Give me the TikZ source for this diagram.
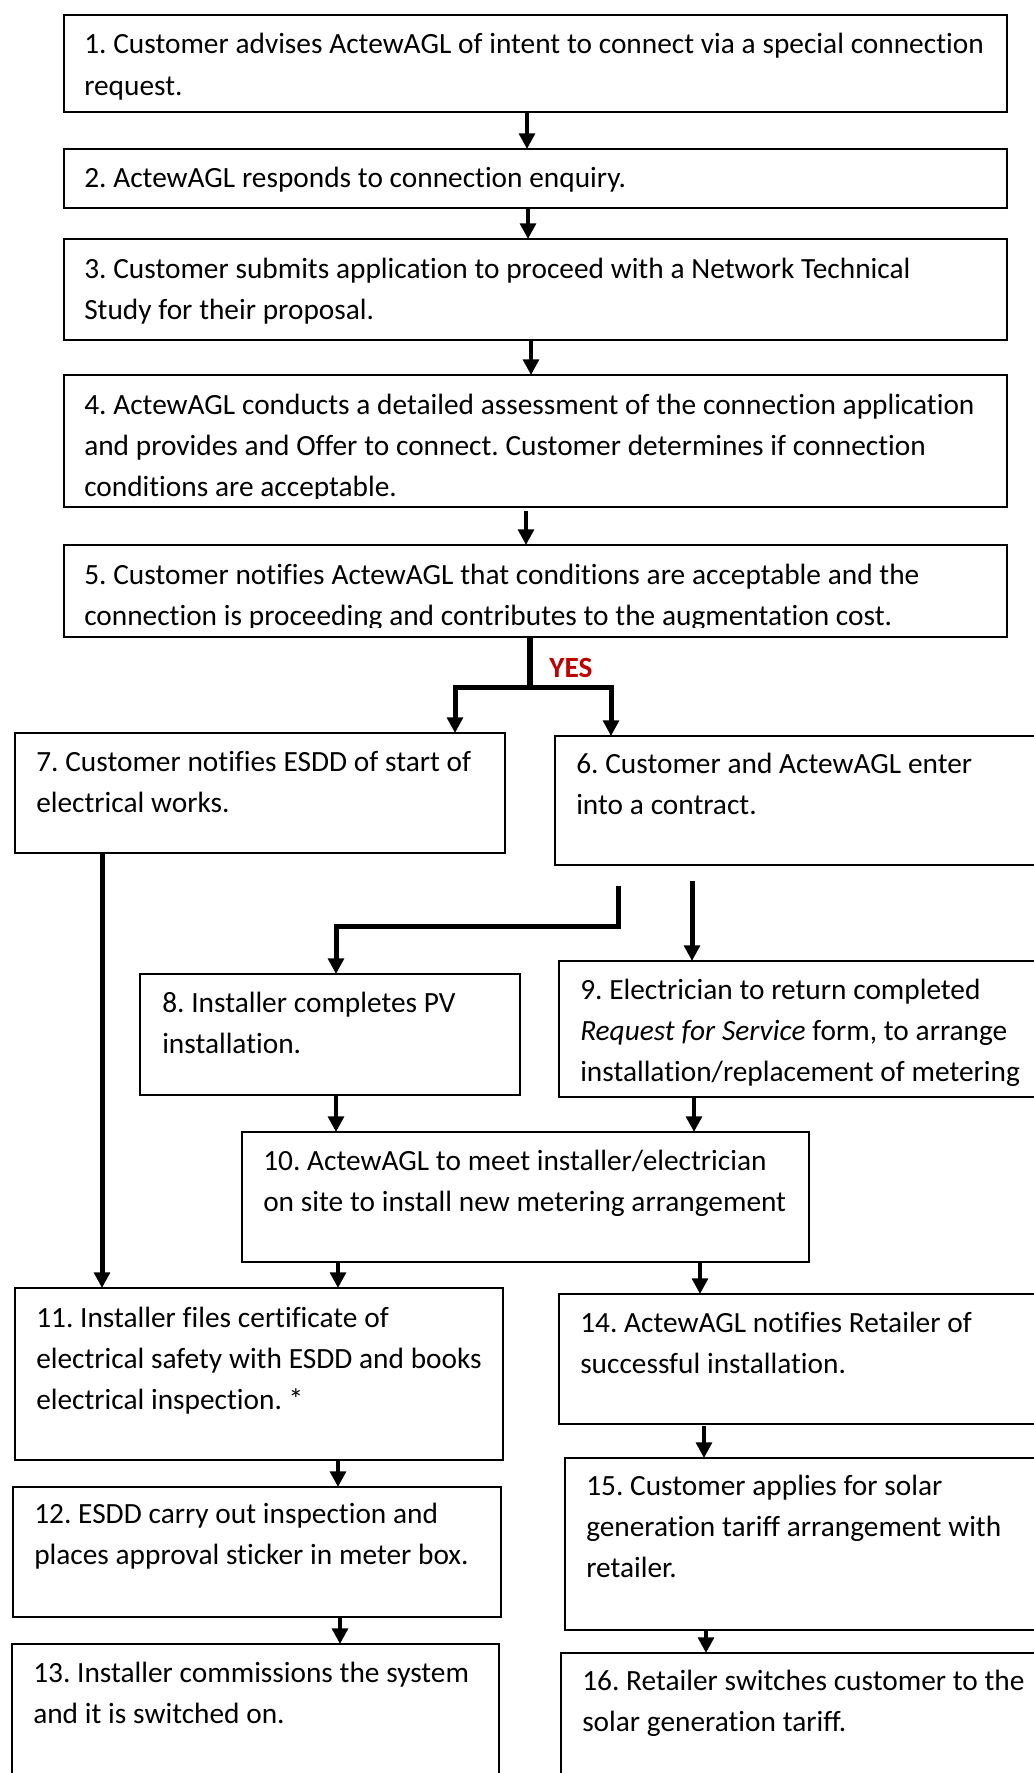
\documentclass[tikz,border=0pt]{standalone}
\usepackage{fontspec}
\setmainfont{Carlito}[Ligatures=NoCommon]
\usetikzlibrary{arrows.meta,calc}
\definecolor{yesred}{HTML}{C00000}
\frenchspacing
\newcommand\boxtextfont{\fontsize{22pt}{31pt}\selectfont\frenchspacing\hyphenpenalty=10000\relax}
\newcommand\fixsp{\spaceskip=0.232em plus 0.06em minus 0.03em\relax\xspaceskip=0.232em plus 0.06em minus 0.03em\relax}
\begin{document}
\begin{tikzpicture}[x=0.75pt,y=-0.75pt,
  box/.style={draw, line width=1.1pt, inner sep=0pt, outer sep=0pt, anchor=north west},
  boxsize/.style 2 args={minimum width=#1*0.75pt, minimum height=#2*0.75pt},
  txt/.style={anchor=base west, inner sep=0pt, text width=#1*0.75pt, font={\boxtextfont}},
  arr/.style={line width=3pt, -{Triangle[length=11.8pt,width=11.8pt]}},
  barr/.style={line width=3.75pt, -{Triangle[length=11.8pt,width=11.8pt]}},
  bline/.style={line width=4.2pt}]
\clip (0,0) rectangle (1034,1773);
\fill[white] (0,0) rectangle (1034,1773);

% boxes
\node[box, boxsize={943}{97}]  (b1)  at (64,15) {};
\node[box, boxsize={943}{59}]  (b2)  at (64,149) {};
\node[box, boxsize={943}{101}] (b3)  at (64,239) {};
\node[box, boxsize={943}{132}] (b4)  at (64,375) {};
\node[box, boxsize={943}{92}]  (b5)  at (64,545) {};
\node[box, boxsize={490}{120}] (b7)  at (15,733) {};
\node[box, boxsize={495}{129}] (b6)  at (555,736) {};
\node[box, boxsize={380}{121}] (b8)  at (140,974) {};
\node[box, boxsize={491}{136}] (b9)  at (559,961) {};
\node[box, boxsize={567}{130}] (b10) at (242,1132) {};
\node[box, boxsize={488}{172}] (b11) at (15,1288) {};
\node[box, boxsize={491}{130}] (b14) at (559,1294) {};
\node[box, boxsize={488}{130}] (b12) at (13,1487) {};
\node[box, boxsize={485}{172}] (b15) at (565,1458) {};
\node[box, boxsize={487}{146}] (b13) at (12,1644) {};
\node[box, boxsize={489}{137}] (b16) at (561,1653) {};

% texts
\node[txt=922] (t1) at ($(b1.north west)+(20,39)$) {\fixsp 1. Customer advises ActewAGL of intent to connect via a special connection\\request.};
\node[txt=922] (t2) at ($(b2.north west)+(20,39)$) {\fixsp 2. ActewAGL responds to connection enquiry.};
\node[txt=922] (t3) at ($(b3.north west)+(20,39)$) {\fixsp 3. Customer submits application to proceed with a Network Technical\\Study for their proposal.};
\begin{scope}
  \clip (64,376) rectangle (1007,498);
  \node[txt=922] (t4) at ($(b4.north west)+(20,39)$) {\fixsp 4. ActewAGL conducts a detailed assessment of the connection application\\and provides and Offer to connect. Customer determines if connection\\conditions are acceptable.};
\end{scope}
\begin{scope}
  \clip (64,546) rectangle (1007,627);
  \node[txt=922] (t5) at ($(b5.north west)+(20,39)$) {\fixsp 5. Customer notifies ActewAGL that conditions are acceptable and the\\connection is proceeding and contributes to the augmentation cost.};
\end{scope}
\node[txt=469] (t7)  at ($(b7.north west)+(21,38)$)  {\fixsp 7. Customer notifies ESDD of start of\\electrical works.};
\node[txt=458] (t6)  at ($(b6.north west)+(21,37)$)  {\fixsp 6. Customer and ActewAGL enter\\into a contract.};
\node[txt=359] (t8)  at ($(b8.north west)+(22,38)$)  {\fixsp 8. Installer completes PV\\installation.};
\node[txt=462] (t9)  at ($(b9.north west)+(21,38)$)  {\fixsp 9. Electrician to return completed\\\textit{Request for Service} form, to arrange\\installation/replacement of metering};
\node[txt=546] (t10) at ($(b10.north west)+(21,38)$) {\fixsp 10. ActewAGL to meet installer/electrician\\on site to install new metering arrangement};
\node[txt=467] (t11) at ($(b11.north west)+(21,39)$) {\fixsp 11. Installer files certificate of\\electrical safety with ESDD and books\\electrical inspection. *};
\node[txt=460] (t14) at ($(b14.north west)+(21,38)$) {\fixsp 14. ActewAGL notifies Retailer of\\successful installation.};
\node[txt=467] (t12) at ($(b12.north west)+(21,36)$) {\fixsp 12. ESDD carry out inspection and\\places approval sticker in meter box.};
\node[txt=455] (t15) at ($(b15.north west)+(21,37)$) {\fixsp 15. Customer applies for solar\\generation tariff arrangement with\\retailer.};
\node[txt=466] (t13) at ($(b13.north west)+(21,38)$) {\fixsp 13. Installer commissions the system\\and it is switched on.};
\node[txt=460] (t16) at ($(b16.north west)+(21,37)$) {\fixsp 16. Retailer switches customer to the\\solar generation tariff.};

% YES label
\node[anchor=base west, inner sep=0pt, font={\fontsize{22pt}{31pt}\selectfont\bfseries}, text=yesred] (yes) at (549,677) {YES};

% connectors
\draw[arr] (b1.south -| 527,0) -- (b2.north -| 527,0);
\draw[arr] (b2.south -| 528,0) -- (b3.north -| 528,0);
\draw[arr] (b3.south -| 531,0) -- (b4.north -| 531,0);
\draw[arr] (526,511) -- (b5.north -| 526,0);

\coordinate (j5) at (530,687);
\coordinate (yl) at (455,687);
\coordinate (yr) at (611,687);
\draw[bline] (b5.south -| j5) -- (j5);
\draw[barr] (j5) -- (yl) -- (yl |- b7.north);
\draw[barr] (j5) -- (yr) -- (yr |- b6.north);

\draw[barr] ($(b7.south west)+(87,0)$) -- ($(b11.north west)+(87,0)$);

\coordinate (e1) at (618,886);
\coordinate (e2) at (336,926);
\draw[barr] (e1) |- (e2) -- (e2 |- b8.north);
\coordinate (e3) at (692,881);
\draw[barr] (e3) -- (e3 |- b9.north);

\draw[arr] (b8.south -| 336,0) -- (b10.north -| 336,0);
\draw[arr] (b9.south -| 694,0) -- (b10.north -| 694,0);
\draw[arr] (b10.south -| 338,0) -- (b11.north -| 338,0);
\draw[arr] (b10.south -| 700,0) -- (b14.north -| 700,0);
\draw[arr] (b11.south -| 338,0) -- (b12.north -| 338,0);
\draw[arr] (b12.south -| 340,0) -- (b13.north -| 340,0);
\draw[arr] (704,1426) -- (b15.north -| 704,0);
\draw[arr] (b15.south -| 706,0) -- (b16.north -| 706,0);
\end{tikzpicture}
\end{document}
